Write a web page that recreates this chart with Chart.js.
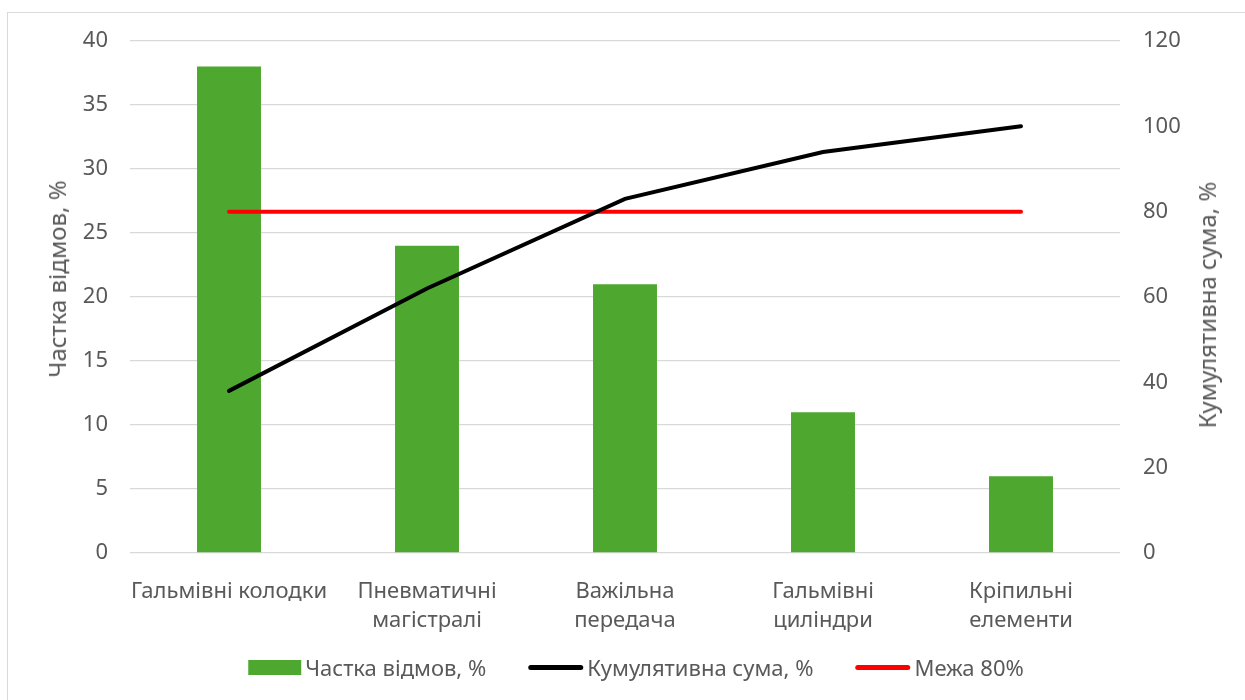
<!DOCTYPE html>
<html lang="uk">
<head>
<meta charset="utf-8">
<title>Діаграма Парето</title>
<script src="https://cdn.jsdelivr.net/npm/chart.js@4.4.1/dist/chart.umd.min.js"></script>
<style>
    html, body { margin: 0; padding: 0; background: #ffffff; }
    #wrap {
        position: relative; width: 1245px; height: 700px; overflow: hidden;
        font-family: 'Noto Sans', 'Open Sans', sans-serif; color: #595959;
    }
    #frame {
        position: absolute; left: 7px; top: 12px; width: 1245px; height: 700px;
        border: 1px solid #d9d9d9; box-sizing: border-box; pointer-events: none;
    }
    canvas { position: absolute; left: 0; top: 0; }
    /* підписи осей читаються знизу вгору */
    .axis-title {
        position: absolute;
        transform: translate(-50%, -50%) rotate(-90deg);
        white-space: nowrap; font-size: 24px; line-height: 1;
    }
    #leftTitle { left: 57px; top: 279px; }
    #rightTitle { left: 1207px; top: 305px; }
    #legend {
        position: absolute; left: 636px; top: 667px;
        transform: translate(-50%, -50%);
        display: flex; align-items: center; white-space: nowrap;
        font-size: 22px; line-height: 1;
    }
    #legend .item { display: flex; align-items: center; margin: 0 21px; }
    #legend .mark { margin-right: 4px; }
    #legend .mark.box { width: 53px; height: 15px; }
    #legend .mark.line { width: 55px; height: 5px; border-radius: 3px; }
</style>
</head>
<body>
<div id="wrap">
    <div id="frame"></div>
    <canvas id="paretoChart" width="1245" height="700"></canvas>
    <div class="axis-title" id="leftTitle">Частка відмов, %</div>
    <div class="axis-title" id="rightTitle">Кумулятивна сума, %</div>
    <div id="legend"></div>
</div>
<script>
// категорії несправностей
const categories = [
    'Гальмівні колодки',
    ['Пневматичні', 'магістралі'],
    ['Важільна', 'передача'],
    ['Гальмівні', 'циліндри'],
    ['Кріпильні', 'елементи']
];
// частка відмов, %
const failureShare = [38, 24, 21, 11, 6];
// кумулятивна сума, %
const cumulativeSum = [38, 62, 83, 94, 100];
// межа 80%
const limitLine = [80, 80, 80, 80, 80];

const leftTicks = { min: 0, max: 40, step: 5 };
const rightTicks = { min: 0, max: 120, step: 20 };

const FONT = "'Noto Sans', 'Open Sans', sans-serif";
const TEXT = '#595959';
const GRID = '#d9d9d9';

const chart = new Chart(document.getElementById('paretoChart'), {
    type: 'bar',
    data: {
        labels: categories,
        datasets: [
            {
                label: 'Частка відмов, %',
                data: failureShare,
                backgroundColor: '#4ea72e',
                borderWidth: 0,
                categoryPercentage: 1,
                barPercentage: 0.323,
                yAxisID: 'y',
                order: 3
            },
            {
                type: 'line',
                label: 'Кумулятивна сума, %',
                data: cumulativeSum,
                borderColor: '#000000',
                backgroundColor: '#000000',
                borderWidth: 4,
                borderCapStyle: 'round',
                pointRadius: 0,
                pointHoverRadius: 0,
                tension: 0,
                yAxisID: 'y1',
                order: 1
            },
            {
                type: 'line',
                label: 'Межа 80%',
                data: limitLine,
                borderColor: '#ff0000',
                backgroundColor: '#ff0000',
                borderWidth: 4,
                borderCapStyle: 'round',
                pointRadius: 0,
                pointHoverRadius: 0,
                tension: 0,
                yAxisID: 'y1',
                order: 2
            }
        ]
    },
    options: {
        responsive: false,
        animation: false,
        layout: {
            padding: { left: 0, right: 25, top: 41, bottom: 67 }
        },
        plugins: {
            tooltip: { enabled: false },
            legend: { display: false }
        },
        scales: {
            x: {
                grid: { display: false },
                border: { display: false },
                ticks: {
                    color: TEXT,
                    font: { family: FONT, size: 22, lineHeight: 1.32 },
                    padding: 16,
                    maxRotation: 0,
                    autoSkip: false
                },
                afterFit(scale) { scale.height = 80; }
            },
            y: {
                position: 'left',
                min: leftTicks.min,
                max: leftTicks.max,
                ticks: {
                    stepSize: leftTicks.step,
                    color: TEXT,
                    font: { family: FONT, size: 22 },
                    padding: 22
                },
                grid: { color: GRID, lineWidth: 1.3, drawTicks: false },
                border: { display: false },
                afterFit(scale) { scale.width = 130; }
            },
            y1: {
                position: 'right',
                min: rightTicks.min,
                max: rightTicks.max,
                ticks: {
                    stepSize: rightTicks.step,
                    color: TEXT,
                    font: { family: FONT, size: 22 },
                    padding: 23
                },
                grid: { display: false, drawTicks: false },
                border: { display: false },
                afterFit(scale) { scale.width = 100; }
            }
        }
    }
});

// легенда під графіком, з наборів даних у їхньому порядку
function renderLegend(c) {
    const box = document.getElementById('legend');
    box.innerHTML = '';
    c.data.datasets.forEach(ds => {
        const item = document.createElement('div');
        item.className = 'item';
        const mark = document.createElement('span');
        const isLine = ds.type === 'line';
        mark.className = 'mark ' + (isLine ? 'line' : 'box');
        mark.style.background = isLine ? ds.borderColor : ds.backgroundColor;
        const text = document.createElement('span');
        text.textContent = ds.label;
        item.append(mark, text);
        box.append(item);
    });
}
renderLegend(chart);
</script>
</body>
</html>
